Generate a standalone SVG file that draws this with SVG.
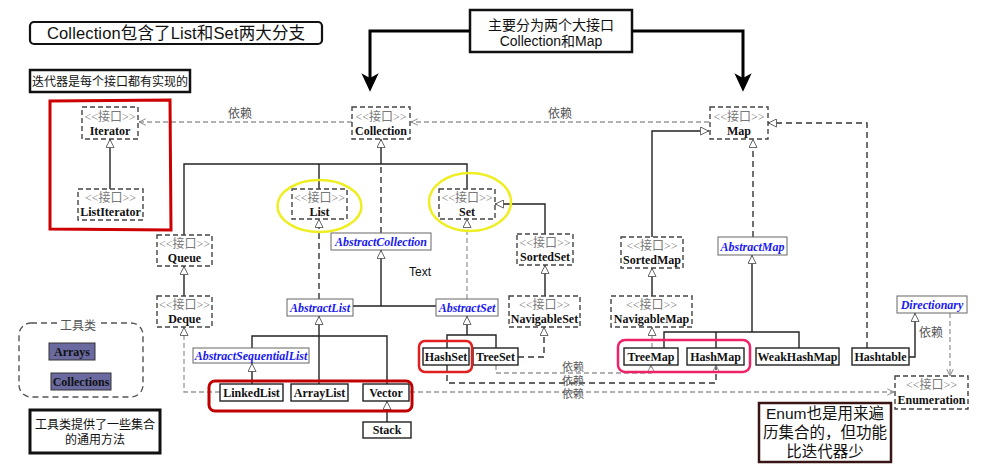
<svg xmlns="http://www.w3.org/2000/svg" width="991" height="472" viewBox="0 0 991 472">
<style>
.iface{fill:#fff;stroke:#444;stroke-width:1.4;stroke-dasharray:5,3}
.cls{fill:#fff;stroke:#222;stroke-width:1.4}
.abs{fill:#fff;stroke:#666;stroke-width:1}
.st{font-family:"Liberation Serif","Noto Sans CJK SC",serif;font-size:12px;fill:#777;text-anchor:middle}
.nm{font-family:"Liberation Serif",serif;font-size:12px;font-weight:bold;fill:#111;text-anchor:middle}
.an{font-family:"Liberation Serif",serif;font-size:12px;font-weight:bold;font-style:italic;fill:#1a1aee;text-anchor:middle}
.lbl{font-family:"Noto Sans CJK SC",sans-serif;font-size:12px;fill:#555;text-anchor:middle}
.lbl2{font-family:"Liberation Sans","Noto Sans CJK SC",sans-serif;font-size:11px;fill:#555;text-anchor:middle}
.note{font-family:"Liberation Sans","Noto Sans CJK SC",sans-serif;fill:#111;text-anchor:middle}
.sol{fill:none;stroke:#222;stroke-width:1.4}
.dsh{fill:none;stroke:#333;stroke-width:1.4;stroke-dasharray:6,4}
.gdsh{fill:none;stroke:#999;stroke-width:1.3;stroke-dasharray:5,3}
.thick{fill:none;stroke:#000;stroke-width:3}
.tri{marker-end:url(#tri)}
.dep{marker-end:url(#open)}
</style>
<defs>
<marker id="tri" viewBox="0 0 10 10" refX="10" refY="5" markerWidth="9" markerHeight="9" markerUnits="userSpaceOnUse" orient="auto">
<path d="M0.5,0.5 L9.5,5 L0.5,9.5 Z" fill="#fff" stroke="#555" stroke-width="1"/>
</marker>
<marker id="open" viewBox="0 0 10 10" refX="9.5" refY="5" markerWidth="8" markerHeight="8" markerUnits="userSpaceOnUse" orient="auto">
<path d="M1,1 L9.5,5 L1,9" fill="none" stroke="#888" stroke-width="1.2"/>
</marker>
</defs>

<!-- annotations -->
<g id="note-title">
<rect x="30" y="22" width="292" height="22" rx="4" fill="#fff" stroke="#111" stroke-width="2.2"/>
<text class="note" x="176" y="39" font-size="16.5" textLength="258">Collection包含了List和Set两大分支</text>
</g>
<g id="note-iter">
<rect x="30" y="70" width="160" height="22" fill="#fff" stroke="#111" stroke-width="2.5"/>
<text class="note" x="110" y="86" font-size="12">迭代器是每个接口都有实现的</text>
</g>
<g id="note-main">
<rect x="470" y="10" width="162" height="42" fill="#fff" stroke="#111" stroke-width="2.5"/>
<text class="note" x="551" y="30" font-size="14">主要分为两个大接口</text>
<text class="note" x="551" y="46" font-size="14">Collection和Map</text>
</g>
<g id="note-tools">
<rect x="30" y="410" width="130" height="43" fill="#fff" stroke="#111" stroke-width="3"/>
<text class="note" x="95" y="429" font-size="12">工具类提供了一些集合</text>
<text class="note" x="95" y="444" font-size="12">的通用方法</text>
</g>
<g id="note-enum">
<rect x="759" y="403" width="132" height="59" fill="#fff" stroke="#3a1515" stroke-width="2.5"/>
<text class="note" x="825" y="419" font-size="15.5">Enum也是用来遍</text>
<text class="note" x="825" y="438" font-size="15.5">历集合的，但功能</text>
<text class="note" x="825" y="457" font-size="15.5">比迭代器少</text>
</g>

<!-- tools group -->
<g id="tools">
<rect x="19" y="323" width="124" height="74" rx="12" fill="none" stroke="#555" stroke-width="1.4" stroke-dasharray="6,4"/>
<rect x="58" y="318" width="40" height="12" fill="#fff"/>
<text class="lbl" x="78" y="330" fill="#666">工具类</text>
<rect x="49" y="343" width="46" height="17" fill="#6a6aa0" stroke="#333" stroke-width="1"/>
<text class="nm" x="72" y="356">Arrays</text>
<rect x="51" y="373" width="60" height="17" fill="#6a6aa0" stroke="#333" stroke-width="1"/>
<text class="nm" x="81" y="386">Collections</text>
</g>

<!-- connectors -->
<g id="connectors">
<path class="thick" d="M470,31 H370 V80"/>
<path d="M363,75 L370,90 L377,75 L370,79 Z" fill="#000" stroke="#000" stroke-width="1.5"/>
<path class="thick" d="M632,31 H743 V80"/>
<path d="M736,75 L743,90 L750,75 L743,79 Z" fill="#000" stroke="#000" stroke-width="1.5"/>

<path class="gdsh dep" d="M352,122 H139"/>
<text class="lbl" x="240" y="118">依赖</text>
<path class="gdsh dep" d="M709,122 H411"/>
<text class="lbl" x="560" y="118">依赖</text>

<path class="sol tri" d="M110,189 V139"/>

<path class="sol tri" d="M381,164 V139"/>
<path class="sol" d="M184,235 V164 H467 V189"/>
<path class="sol" d="M319,164 V189"/>
<path class="dsh" d="M381,233 V164"/>

<path class="sol tri" d="M184,296 V266"/>
<path class="gdsh tri" d="M220,392 H184 V327"/>

<path class="dsh tri" d="M319,299 V219"/>
<path class="sol tri" d="M381,306 V250"/>
<path class="sol" d="M353,306 H436"/>
<path class="gdsh tri" d="M467,299 V219" stroke="#bbb"/>
<path class="sol tri" d="M545,234 V204 H495"/>
<path class="sol tri" d="M545,296 V265"/>
<path class="sol tri" d="M467,335 V316"/>
<path class="sol" d="M447,348 V335 H496 V348"/>
<path class="dsh tri" d="M518,357 H544 V327"/>

<path class="sol tri" d="M319,384 V316"/>
<path class="sol" d="M252,348 V336 H387 V384"/>
<path class="sol tri" d="M252,384 V363"/>
<path class="sol tri" d="M387,422 V401"/>

<path class="sol tri" d="M652,237 V131 H709"/>
<path class="sol tri" d="M652,296 V268"/>
<path class="gdsh tri" d="M652,348 V327"/>
<path class="dsh tri" d="M753,237 V139"/>
<path class="sol tri" d="M752,332 V255"/>
<path class="sol" d="M664,348 V332 H799 V348"/>
<path class="sol" d="M716,332 V348"/>
<path class="dsh tri" d="M867,348 V123 H768"/>
<path class="sol tri" d="M909,357 H915 V313"/>
<text class="lbl" x="931" y="337">依赖</text>
<path class="gdsh dep" d="M950,313 V376"/>

<path class="gdsh dep" d="M496,365 V373 H651 V365"/>
<path class="dsh dep" d="M447,365 V383 H716 V365" stroke-width="1.2"/>
<path class="gdsh dep" d="M410,392 H894"/>
<text class="lbl2" x="573" y="371">依赖</text>
<text class="lbl2" x="573" y="384.5">依赖</text>
<text class="lbl2" x="573" y="398">依赖</text>
</g>

<!-- interface nodes -->
<g id="n-iterator"><rect class="iface" x="82" y="107" width="56" height="32"/><text class="st" x="110" y="121">&lt;&lt;接口&gt;&gt;</text><text class="nm" x="110" y="135">Iterator</text></g>
<g id="n-listiterator"><rect class="iface" x="78" y="189" width="65" height="31"/><text class="st" x="110.5" y="202">&lt;&lt;接口&gt;&gt;</text><text class="nm" x="110.5" y="216">ListIterator</text></g>
<g id="n-collection"><rect class="iface" x="352" y="107" width="58" height="32"/><text class="st" x="381" y="121">&lt;&lt;接口&gt;&gt;</text><text class="nm" x="381" y="135">Collection</text></g>
<g id="n-map"><rect class="iface" x="710" y="107" width="58" height="32"/><text class="st" x="739" y="121">&lt;&lt;接口&gt;&gt;</text><text class="nm" x="739" y="135">Map</text></g>
<g id="n-list"><rect class="iface" x="292" y="189" width="55" height="30"/><text class="st" x="319.5" y="202">&lt;&lt;接口&gt;&gt;</text><text class="nm" x="319.5" y="216">List</text></g>
<g id="n-set"><rect class="iface" x="439" y="189" width="56" height="30"/><text class="st" x="467" y="202">&lt;&lt;接口&gt;&gt;</text><text class="nm" x="467" y="216">Set</text></g>
<g id="n-queue"><rect class="iface" x="157" y="235" width="55" height="31"/><text class="st" x="184.5" y="248">&lt;&lt;接口&gt;&gt;</text><text class="nm" x="184.5" y="262">Queue</text></g>
<g id="n-deque"><rect class="iface" x="157" y="296" width="55" height="31"/><text class="st" x="184.5" y="309">&lt;&lt;接口&gt;&gt;</text><text class="nm" x="184.5" y="323">Deque</text></g>
<g id="n-sortedset"><rect class="iface" x="517" y="234" width="56" height="31"/><text class="st" x="545" y="247">&lt;&lt;接口&gt;&gt;</text><text class="nm" x="545" y="261">SortedSet</text></g>
<g id="n-navigableset"><rect class="iface" x="509" y="296" width="71" height="31"/><text class="st" x="544.5" y="309">&lt;&lt;接口&gt;&gt;</text><text class="nm" x="544.5" y="323">NavigableSet</text></g>
<g id="n-sortedmap"><rect class="iface" x="621" y="237" width="62" height="31"/><text class="st" x="652" y="250">&lt;&lt;接口&gt;&gt;</text><text class="nm" x="652" y="264">SortedMap</text></g>
<g id="n-navigablemap"><rect class="iface" x="611" y="296" width="81" height="31"/><text class="st" x="651.5" y="309">&lt;&lt;接口&gt;&gt;</text><text class="nm" x="651.5" y="323">NavigableMap</text></g>
<g id="n-enumeration"><rect class="iface" x="895" y="376" width="73" height="33"/><text class="st" x="931.5" y="389">&lt;&lt;接口&gt;&gt;</text><text class="nm" x="931.5" y="404">Enumeration</text></g>

<!-- abstract nodes -->
<g id="n-abstractcollection"><rect class="abs" x="331" y="233" width="100" height="17"/><text class="an" x="381" y="246">AbstractCollection</text></g>
<g id="n-abstractlist"><rect class="abs" x="287" y="299" width="66" height="17"/><text class="an" x="320" y="312">AbstractList</text></g>
<g id="n-abstractset"><rect class="abs" x="436" y="299" width="62" height="17"/><text class="an" x="467" y="312">AbstractSet</text></g>
<g id="n-abstractsequentiallist"><rect class="abs" x="193" y="348" width="116" height="15"/><text class="an" x="251" y="360">AbstractSequentialList</text></g>
<g id="n-abstractmap"><rect class="abs" x="718" y="237" width="69" height="18"/><text class="an" x="752.5" y="251">AbstractMap</text></g>
<g id="n-directionary"><rect class="abs" x="897" y="296" width="70" height="17"/><text class="an" x="932" y="309">Directionary</text></g>

<!-- concrete nodes -->
<g id="n-hashset"><rect class="cls" x="423" y="348" width="46" height="17"/><text class="nm" x="446" y="361">HashSet</text></g>
<g id="n-treeset"><rect class="cls" x="473" y="348" width="45" height="17"/><text class="nm" x="495.5" y="361">TreeSet</text></g>
<g id="n-treemap"><rect class="cls" x="624" y="348" width="54" height="17"/><text class="nm" x="651" y="361">TreeMap</text></g>
<g id="n-hashmap"><rect class="cls" x="687" y="348" width="57" height="17"/><text class="nm" x="715.5" y="361">HashMap</text></g>
<g id="n-weakhashmap"><rect class="cls" x="756" y="348" width="83" height="17"/><text class="nm" x="797.5" y="361">WeakHashMap</text></g>
<g id="n-hashtable"><rect class="cls" x="852" y="348" width="57" height="17"/><text class="nm" x="880.5" y="361">Hashtable</text></g>
<g id="n-linkedlist"><rect class="cls" x="220" y="384" width="63" height="17"/><text class="nm" x="251.5" y="397">LinkedList</text></g>
<g id="n-arraylist"><rect class="cls" x="291" y="384" width="57" height="17"/><text class="nm" x="319.5" y="397">ArrayList</text></g>
<g id="n-vector"><rect class="cls" x="363" y="384" width="46" height="17"/><text class="nm" x="386" y="397">Vector</text></g>
<g id="n-stack"><rect class="cls" x="363" y="422" width="48" height="16"/><text class="nm" x="387" y="434">Stack</text></g>

<text x="420" y="276" font-family="Liberation Sans, sans-serif" font-size="12" fill="#111" text-anchor="middle">Text</text>

<!-- highlight marks -->
<g id="highlights" fill="none">
<path d="M50,101 L170,100 L171,230 L50,229 Z" stroke="#cc0000" stroke-width="3"/>
<rect x="209" y="381" width="203" height="30" rx="6" stroke="#c00000" stroke-width="3"/>
<rect x="419" y="341" width="53" height="31" rx="6" stroke="#e02020" stroke-width="2.5"/>
<rect x="618" y="340" width="132" height="32" rx="7" stroke="#ee2266" stroke-width="2.5"/>
<ellipse cx="319.5" cy="206" rx="42" ry="26" stroke="#eeee22" stroke-width="2.5"/>
<ellipse cx="470" cy="202" rx="41" ry="29" stroke="#eeee22" stroke-width="2.5"/>
</g>
</svg>
